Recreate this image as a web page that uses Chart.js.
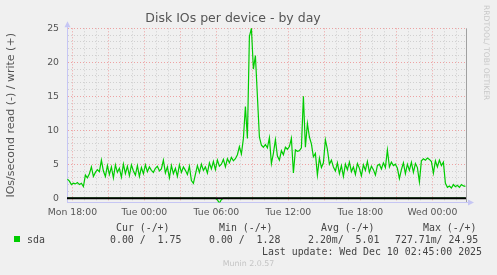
<!DOCTYPE html>
<html><head><meta charset="utf-8">
<script src="https://cdn.jsdelivr.net/npm/chart.js@4/dist/chart.umd.min.js"></script>
<style>
html,body{margin:0;padding:0;background:#f0f0f0;}
#wrap{position:relative;width:497px;height:275px;overflow:hidden;background:#f0f0f0;}
#c{position:absolute;left:0;top:0;}
.t{position:absolute;font-family:"DejaVu Sans Mono",monospace;font-size:9.9px;color:#444;white-space:pre;line-height:1;}
.sw{position:absolute;left:14px;top:236px;width:6px;height:6px;background:#00cc00;}
.mu{position:absolute;left:0;width:497px;top:260px;text-align:center;font-family:"DejaVu Sans",sans-serif;font-size:7.9px;color:#c4c4c4;line-height:1;}
.wm{position:absolute;left:482px;top:5px;writing-mode:vertical-rl;font-family:"DejaVu Sans",sans-serif;font-size:7.6px;color:#c8c8c8;line-height:1;white-space:pre;}
</style></head><body>
<div id="wrap">
<canvas id="c" width="497" height="275"></canvas>
<div class="t" style="left:116px;top:223px">Cur (-/+)</div>
<div class="t" style="left:219px;top:223px">Min (-/+)</div>
<div class="t" style="left:321px;top:223px">Avg (-/+)</div>
<div class="t" style="left:423px;top:223px">Max (-/+)</div>
<div class="sw"></div>
<div class="t" style="left:27px;top:234.5px">sda</div>
<div class="t" style="left:110px;top:234.5px">0.00 /  1.75</div>
<div class="t" style="left:209px;top:234.5px">0.00 /  1.28</div>
<div class="t" style="left:308px;top:234.5px">2.20m/  5.01</div>
<div class="t" style="left:395px;top:234.5px">727.71m/ 24.95</div>
<div class="t" style="left:262px;top:247px">Last update: Wed Dec 10 02:45:00 2025</div>
<div class="mu">Munin 2.0.57</div>
<div class="wm">RRDTOOL/ TOBI OETIKER</div>
</div>
<script>
// ---- data (hours measured from Mon 00:00) ----
const startHour = 17 + 35/60;   // first sample: Mon 17:35
const stepHours = 10/60;        // one sample every 10 minutes
const xMin = 17.55, xMax = 50.8;

// write IOs/s (+)
const writeIOs = [
  2.8,2.5,2.0,2.2,2.1,2.3,2.0,2.2,1.7,3.4, 3.0,3.6,4.6,3.2,3.8,4.2,3.9,5.6,4.0,3.2,
  4.8,3.5,4.6,3.0,4.9,3.8,4.4,3.1,5.0,3.6, 4.7,3.3,4.9,4.0,3.4,4.8,3.2,
  4.5,3.6,4.9,3.9,4.6,4.1,3.8,4.4,4.7,4.0,4.3,5.6,3.7,
  4.6,3.0,4.8,3.6,4.4,3.2,4.9,3.8,4.6,4.1,3.5,4.7,
  2.6,2.2,3.5,
  4.8,3.8,5.0,4.1,4.6,3.7,5.2,4.3,
  5.4,4.2,5.6,4.7,5.0,5.7,4.6,5.8,5.2,6.0,5.5,5.8,6.4,7.6,6.5,
  8.8,13.5,8.8,23.8,25.0,19.0,21.0,15.0,9.0,
  7.8,7.5,7.9,7.4,8.9,5.1,6.6,8.6,
  6.2,5.6,7.0,6.4,7.5,7.2,7.6,8.8,3.7,7.1,6.9,7.0,7.4,15.0,7.5,11.0,9.0,8.0,6.1,6.6,3.4,5.9,4.5,5.2,8.6,7.2,5.0,5.6,4.6,
  4.0,5.2,3.6,4.8,3.2,5.0,4.2,5.3,3.9,4.6,3.5,5.1,4.4,3.3,4.9,4.1,5.4,3.8,4.7,4.2,3.4,4.8,5.0,4.3,5.2,4.5,
  7.1,4.6,5.3,4.8,5.0,4.4,2.9,4.2,5.2,3.6,5.0,4.1,5.3,3.8,5.1,4.5,
  2.4,5.5,5.8,5.6,5.9,5.7,5.4,3.7,5.5,4.6,5.6,4.8,5.3,2.2,
  1.6,1.8,1.5,2.0,1.7,1.9,1.6,2.0,1.8,1.75
];
// read IOs/s (-), drawn negative
const readIOs = [
  0,0,0,0,0,0,0,0,0,0, 0,0,0,0,0,0,0,0,0,0,
  0,0,0,0,0,0,0,0,0,0, 0,0,0,0,0,0,0,0,0,0,
  0,0,0,0,0,0,0,0,0,0, 0,0,0,0,0,0,0,0,0,0,
  0,0,0,0,0,0,0,0,0,0, 0,0,0,0,0,-0.25,-0.73,-0.2,0,0,
  0,0,0,0,0,0,0,0,0,0, 0,0,0,0,0,0,0,0,0,0,
  0,0,0,0,0,0,0,0,0,0, 0,0,0,0,0,0,0,0,0,0,
  0,0,0,0,0,0,0,0,0,0, 0,0,0,0,0,0,0,0,0,0,
  0,0,0,0,0,0,0,0,0,0, 0,0,0,0,0,0,0,0,0,0,
  0,0,0,0,0,0,0,0,0,0, 0,0,0,0,0,0,0,0,0,0,
  0,0,0,0,0,0,0,0,0,0, 0,0,0,0,0,0,0,0,0,0
];
const times = writeIOs.map((_, i) => startHour + i * stepHours);

const xTickHours  = [18,24,30,36,42,48];
const xTickLabels = ['Mon 18:00','Tue 00:00','Tue 06:00','Tue 12:00','Tue 18:00','Wed 00:00'];
const yTickValues = [0,5,10,15,20,25];
const yTickLabels = ['0','5','10','15','20','25'];
const yMin = -0.62, yMax = 25;

const MAJOR = 'rgba(235,110,110,0.6)';
const MINOR = 'rgba(175,175,175,0.5)';
const AXIS = '#c6c6f4';
const FONT = 'DejaVu Sans';

const decor = {
  id: 'decor',
  afterDatasetsDraw(chart) {
    const {ctx, chartArea: a, scales: {x, y}} = chart;
    const y0 = y.getPixelForValue(0);
    ctx.save();
    // zero rule
    ctx.strokeStyle = '#000'; ctx.lineWidth = 2;
    ctx.beginPath(); ctx.moveTo(a.left, y0); ctx.lineTo(a.right, y0); ctx.stroke();
    // right frame
    ctx.strokeStyle = '#a0a0a0'; ctx.lineWidth = 1;
    ctx.beginPath(); ctx.moveTo(Math.round(a.right)+0.5, a.top); ctx.lineTo(Math.round(a.right)+0.5, a.bottom); ctx.stroke();
    // arrows
    ctx.fillStyle = AXIS;
    const lx = Math.round(a.left) + 0.5;
    ctx.beginPath(); ctx.moveTo(lx - 3, a.top - 1); ctx.lineTo(lx + 3, a.top - 1); ctx.lineTo(lx, a.top - 7); ctx.closePath(); ctx.fill();
    ctx.strokeStyle = AXIS;
    ctx.beginPath(); ctx.moveTo(lx, a.top); ctx.lineTo(lx, a.top - 3); ctx.stroke();
    const by = Math.round(a.bottom) + 0.5;
    ctx.beginPath(); ctx.moveTo(a.right, by); ctx.lineTo(a.right + 3, by); ctx.stroke();
    ctx.beginPath(); ctx.moveTo(a.right + 2, by - 3); ctx.lineTo(a.right + 2, by + 3); ctx.lineTo(a.right + 8, by); ctx.closePath(); ctx.fill();
    ctx.restore();
  }
};

new Chart(document.getElementById('c'), {
  type: 'line',
  data: {
    labels: times,
    datasets: [
      { label: 'sda read', data: readIOs, borderColor: '#00cc00', borderWidth: 1.2, pointRadius: 0, tension: 0, fill: false },
      { label: 'sda', data: writeIOs, borderColor: '#00cc00', borderWidth: 1.2, pointRadius: 0, tension: 0, fill: false }
    ]
  },
  options: {
    responsive: false, animation: false, devicePixelRatio: 1,
    layout: { padding: { left: 0, right: 31, top: 0, bottom: 0 } },
    plugins: {
      legend: { display: false }, tooltip: { enabled: false },
      title: { display: true, text: 'Disk IOs per device - by day', color: '#555',
               font: { family: FONT, size: 12.5, weight: 'normal' }, padding: { top: 11.5, bottom: 1.8 } }
    },
    scales: {
      x: {
        type: 'linear', min: xMin, max: xMax,
        afterBuildTicks(s) {
          const t = []; for (let h = 18; h <= 50; h++) t.push({ value: h }); s.ticks = t;
        },
        afterFit(s) { s.height = 72.6; },
        ticks: {
          autoSkip: false, maxRotation: 0, minRotation: 0, padding: 5, color: '#555',
          font: { family: FONT, size: 9.3 },
          callback(v) { const k = xTickHours.indexOf(v); return k >= 0 ? xTickLabels[k] : ''; }
        },
        grid: {
          drawTicks: false,
          color(c) { return (c.tick && c.tick.value % 3 === 0) ? MAJOR : MINOR; },
          lineWidth: 1
        },
        border: { display: true, color: AXIS, width: 1, dash: [1, 2] }
      },
      y: {
        type: 'linear', min: yMin, max: yMax,
        afterBuildTicks(s) {
          const t = []; for (let v = 0; v <= 25; v++) t.push({ value: v }); s.ticks = t;
        },
        afterFit(s) { s.width = 67; },
        ticks: {
          autoSkip: false, padding: 8, color: '#555', font: { family: FONT, size: 9.3 },
          callback(v) { const k = yTickValues.indexOf(v); return k >= 0 ? yTickLabels[k] : ''; }
        },
        grid: {
          drawTicks: false,
          color(c) { return (c.tick && c.tick.value % 5 === 0) ? MAJOR : MINOR; },
          lineWidth: 1
        },
        border: { display: true, color: AXIS, width: 1, dash: [1, 2] },
        title: { display: true, text: 'IOs/second read (-) / write (+)', color: '#555',
                 font: { family: FONT, size: 11 }, padding: { top: 4.4, bottom: 0 } }
      }
    }
  },
  plugins: [decor]
});
</script>
</body></html>
